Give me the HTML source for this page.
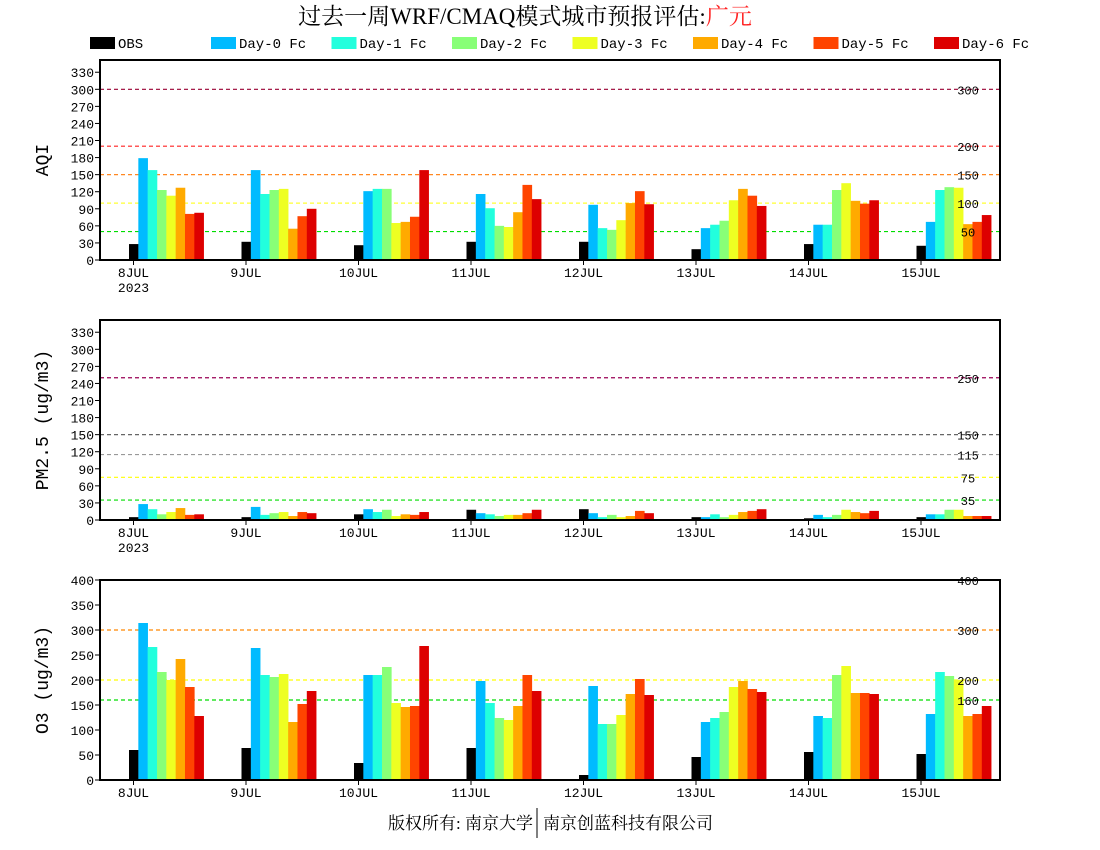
<!DOCTYPE html>
<html><head><meta charset="utf-8"><style>
body{margin:0;background:#fff;}
svg{display:block;font-family:"Liberation Mono","Noto Sans CJK SC",monospace;}
</style></head><body>
<svg id="chart" width="1100" height="850" viewBox="0 0 1100 850">
<text x="525" y="24" text-anchor="middle" font-size="23" font-family="Liberation Serif, Noto Serif CJK SC, serif">过去一周WRF/CMAQ模式城市预报评估:<tspan fill="#ff2222">广元</tspan></text>
<g id="legend"></g>
<g id="panels"></g>
<text x="533" y="829" text-anchor="end" font-size="17" font-family="Liberation Serif, Noto Serif CJK SC, serif">版权所有: 南京大学</text>
<line x1="537" y1="808" x2="537" y2="838" stroke="#000" stroke-width="1"/>
<text x="543" y="829" text-anchor="start" font-size="17" font-family="Liberation Serif, Noto Serif CJK SC, serif">南京创蓝科技有限公司</text>
</svg>
<script>
const categories = ["8JUL","9JUL","10JUL","11JUL","12JUL","13JUL","14JUL","15JUL"];
const seriesNames = ["OBS","Day-0 Fc","Day-1 Fc","Day-2 Fc","Day-3 Fc","Day-4 Fc","Day-5 Fc","Day-6 Fc"];
const seriesColors = ["#000000","#00bbff","#22ffdd","#88ff77","#eeff22","#ffaa00","#ff4400","#dd0000"];
const aqiValues = [
 [28,179,158,123,113,127,81,83],
 [32,158,116,123,125,55,77,90],
 [26,121,125,125,65,67,76,158],
 [32,116,91,60,58,84,132,107],
 [32,97,56,53,70,100,121,98],
 [19,56,62,69,105,125,113,95],
 [28,62,62,123,135,104,99,105],
 [25,67,123,128,127,63,67,79]];
const pmValues = [
 [5,28,19,10,14,21,9,10],
 [5,23,9,12,14,7,14,12],
 [10,19,14,18,7,10,9,14],
 [18,12,10,7,9,9,12,18],
 [19,12,5,9,5,7,16,12],
 [5,5,10,5,9,14,16,19],
 [3,9,5,9,18,14,12,16],
 [5,10,10,18,18,7,7,7]];
const o3Values = [
 [60,314,266,216,200,242,186,128],
 [64,264,210,206,212,116,152,178],
 [34,210,210,226,154,146,148,268],
 [64,198,154,124,120,148,210,178],
 [10,188,112,112,130,172,202,170],
 [46,116,124,136,186,198,182,176],
 [56,128,124,210,228,174,174,172],
 [52,132,216,208,200,128,132,148]];
const aqiTicks = [0,30,60,90,120,150,180,210,240,270,300,330];
const pmTicks = [0,30,60,90,120,150,180,210,240,270,300,330];
const o3Ticks = [0,50,100,150,200,250,300,350,400];
const aqiRefs = [50,100,150,200,300];
const aqiRefColors = ["#00dd00","#ffff33","#ff8822","#ff2222","#990033"];
const pmRefs = [35,75,115,150,250];
const pmRefColors = ["#00dd00","#ffff00","#999999","#666666","#990055"];
const o3Refs = [160,200,300,400];
const o3RefColors = ["#00dd00","#ffff00","#ff8800","#ff0000"];

const NS="http://www.w3.org/2000/svg";
function mk(parent,tag,attrs){const e=document.createElementNS(NS,tag);for(const k in attrs)e.setAttribute(k,attrs[k]);parent.appendChild(e);return e;}
const svg=document.getElementById('chart');

const lg=document.getElementById('legend');
seriesNames.forEach((n,i)=>{
  const x = i===0?90:211+(i-1)*120.5;
  const r=mk(lg,'rect',{x:x,y:37,width:25,height:12,fill:seriesColors[i]});
  
  
  const t=mk(lg,'text',{x:x+28,y:48,'font-size':14});
  t.textContent=n;
  
  
});

const X0=100,X1=1000,GAP=112.5,FIRST=133.5,BW=9.33;
function xScale(i,s){return FIRST-4.5+i*GAP+s*BW;}

function panel(top,bottom,max,ticks,vals,refs,refColors,title,name,showYear){
  const g=mk(svg,'g',{});
  
  
  const yS=v=>bottom-(v/max)*(bottom-top);
  refs.forEach((r,i)=>{
    const l=mk(g,'line',{x1:X0,x2:X1,y1:yS(r),y2:yS(r),stroke:refColors[i],'stroke-width':1.2,'stroke-dasharray':'4,3'});
    
    
  });
  vals.forEach((row,i)=>row.forEach((v,s)=>{
    const b=mk(g,'rect',{x:xScale(i,s),y:yS(v),width:BW+0.3,height:bottom-yS(v),fill:seriesColors[s]});
    
    
  }));
  refs.forEach((r,i)=>{
    const t=mk(g,'text',{x:968,y:yS(r)+5,'font-size':12,'text-anchor':'middle'});
    t.textContent=r;
    
    
  });
  const bx=mk(g,'rect',{x:X0,y:top,width:X1-X0,height:bottom-top,fill:'none',stroke:'#000','stroke-width':2});
  
  
  ticks.forEach(t=>{
    mk(g,'line',{x1:X0-5,x2:X0,y1:yS(t),y2:yS(t),stroke:'#000','stroke-width':1});
    const tx=mk(g,'text',{x:X0-6,y:yS(t)+5,'font-size':13,'text-anchor':'end'});
    tx.textContent=t;
    
    
  });
  categories.forEach((c,i)=>{
    const x=FIRST+i*GAP;
    mk(g,'line',{x1:x,x2:x,y1:bottom,y2:bottom+5,stroke:'#000','stroke-width':1});
    const tx=mk(g,'text',{x:x,y:bottom+17,'font-size':13,'text-anchor':'middle'});
    tx.textContent=c;
    
    
  });
  if(showYear){
    const ty=mk(g,'text',{x:FIRST,y:bottom+32,'font-size':13,'text-anchor':'middle'});
    ty.textContent='2023';
    
    
  }
  const yt=mk(g,'text',{x:0,y:0,'font-size':18,'text-anchor':'middle',transform:`translate(48,${(top+bottom)/2}) rotate(-90)`});
  yt.textContent=title;
  
  
}
panel(60,260,351.5,aqiTicks,aqiValues,aqiRefs,aqiRefColors,'AQI','aqi',true);
panel(320,520,351.5,pmTicks,pmValues,pmRefs,pmRefColors,'PM2.5 (ug/m3)','pm25',true);
panel(580,780,400,o3Ticks,o3Values,o3Refs,o3RefColors,'O3 (ug/m3)','o3',false);
</script>
</body></html>
